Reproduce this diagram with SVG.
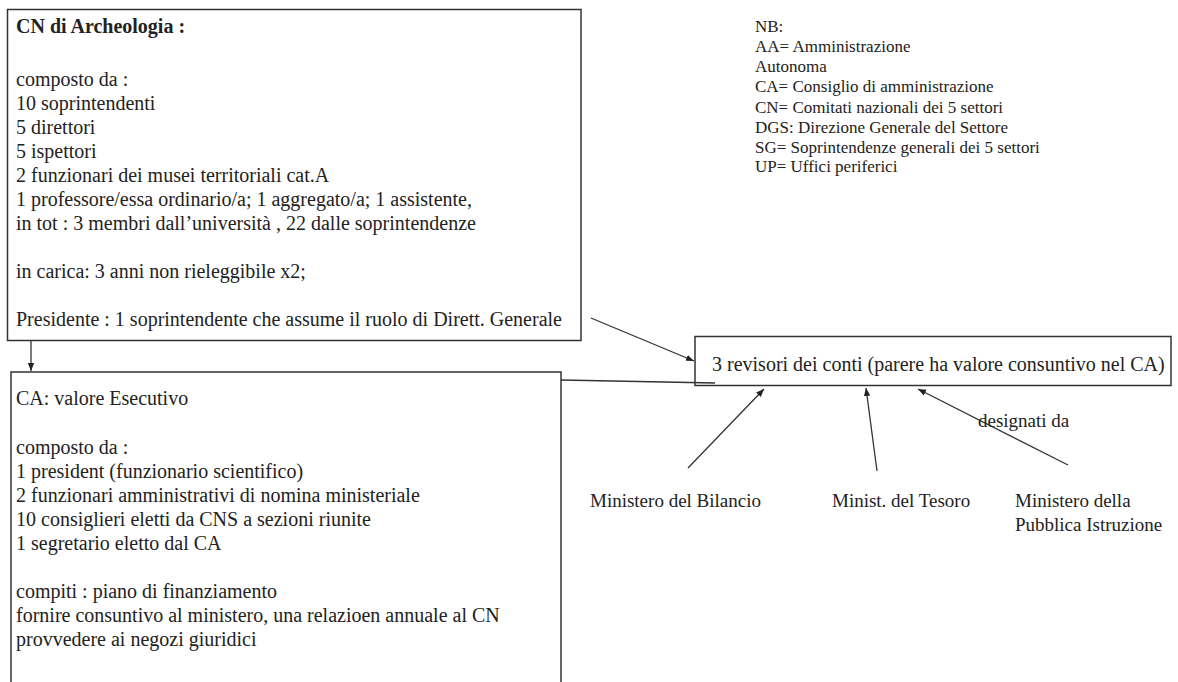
<svg xmlns="http://www.w3.org/2000/svg" width="1178" height="682" viewBox="0 0 1178 682">
<style>
.box{fill:#fff;stroke:#333;stroke-width:1.5}
.t{font-family:"Liberation Serif","Times New Roman",serif;font-size:20px;fill:#222}
.s{font-size:19px}
.b{font-weight:bold}
.nb{font-family:"Liberation Serif","Times New Roman",serif;font-size:17px;fill:#222}
.c{stroke:#333;stroke-width:1.3;fill:none}
</style>
<defs>
<marker id="ah" viewBox="0 0 10 10" refX="10" refY="5" markerWidth="8" markerHeight="8" orient="auto" markerUnits="userSpaceOnUse">
<path d="M0,1 L10,5 L0,9 z" fill="#222"/>
</marker>
</defs>
<rect width="1178" height="682" fill="#fff"/>
<g id="cn">
<rect class="box" x="7.5" y="9.5" width="573.5" height="331"/>
<text class="t" x="16" y="33"><tspan class="b">CN di Archeologia :</tspan>
<tspan x="16" y="86">composto da :</tspan>
<tspan x="16" y="110">10 soprintendenti</tspan>
<tspan x="16" y="134">5 direttori</tspan>
<tspan x="16" y="158">5 ispettori</tspan>
<tspan x="16" y="182">2 funzionari dei musei territoriali cat.A</tspan>
<tspan x="16" y="206">1 professore/essa ordinario/a; 1 aggregato/a; 1 assistente,</tspan>
<tspan x="16" y="230">in tot : 3 membri dall’università , 22 dalle soprintendenze</tspan>
<tspan x="16" y="278">in carica: 3 anni non rieleggibile x2;</tspan>
<tspan x="16" y="326">Presidente : 1 soprintendente che assume il ruolo di Dirett. Generale</tspan></text>
</g>
<g id="ca">
<rect class="box" x="11" y="372" width="550" height="330"/>
<text class="t" x="16" y="405">CA: valore Esecutivo
<tspan x="16" y="454">composto da :</tspan>
<tspan x="16" y="478">1 president (funzionario scientifico)</tspan>
<tspan x="16" y="502">2 funzionari amministrativi di nomina ministeriale</tspan>
<tspan x="16" y="526">10 consiglieri eletti da CNS a sezioni riunite</tspan>
<tspan x="16" y="550">1 segretario eletto dal CA</tspan>
<tspan x="16" y="598">compiti : piano di finanziamento</tspan>
<tspan x="16" y="622">fornire consuntivo al ministero, una relazioen annuale al CN</tspan>
<tspan x="16" y="646">provvedere ai negozi giuridici</tspan></text>
</g>
<g id="revisori">
<rect class="box" x="695" y="336.5" width="476" height="49"/>
<text class="t" x="712" y="371">3 revisori dei conti (parere ha valore consuntivo nel CA)</text>
</g>
<g id="nb">
<text class="nb" x="755" y="32">NB:
<tspan x="755" y="52">AA= Amministrazione</tspan>
<tspan x="755" y="72">Autonoma</tspan>
<tspan x="755" y="92">CA= Consiglio di amministrazione</tspan>
<tspan x="755" y="113">CN= Comitati nazionali dei 5 settori</tspan>
<tspan x="755" y="133">DGS: Direzione Generale del Settore</tspan>
<tspan x="755" y="153">SG= Soprintendenze generali dei 5 settori</tspan>
<tspan x="755" y="172">UP= Uffici periferici</tspan></text>
</g>
<g id="bilancio"><text class="t s" x="590" y="507">Ministero del Bilancio</text></g>
<g id="tesoro"><text class="t s" x="832" y="507">Minist. del Tesoro</text></g>
<g id="istruzione"><text class="t s" x="1015" y="507">Ministero della<tspan x="1015" y="531">Pubblica Istruzione</tspan></text></g>
<g id="connectors">
<line class="c" x1="31" y1="341" x2="31" y2="371" marker-end="url(#ah)"/>
<line class="c" x1="591" y1="318" x2="694" y2="361" marker-end="url(#ah)"/>
<line class="c" x1="561" y1="380" x2="715" y2="383"/>
<line class="c" x1="688" y1="468" x2="764" y2="389" marker-end="url(#ah)"/>
<line class="c" x1="877" y1="471" x2="866" y2="388" marker-end="url(#ah)"/>
<line class="c" x1="1068" y1="465" x2="918" y2="389" marker-end="url(#ah)"/>
<text class="t s" x="978" y="427">designati da</text>
</g>
</svg>
